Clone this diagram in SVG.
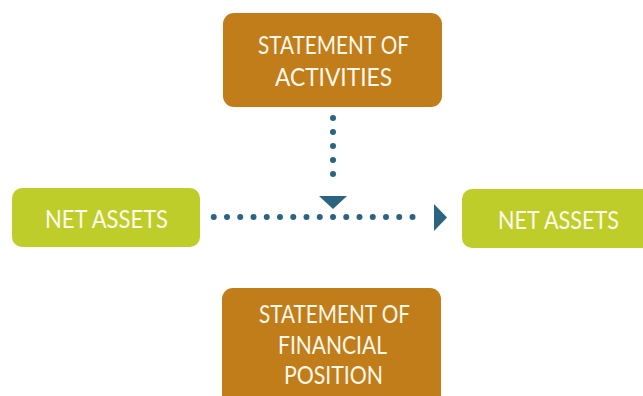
<svg xmlns="http://www.w3.org/2000/svg" width="643" height="396" viewBox="0 0 643 396">
<style>
.stmt{fill:#C17D1A}
.net{fill:#BFCD2B}
.t{fill:#FFF9EC;font-family:Lato,"Liberation Sans",sans-serif;font-size:25px;text-anchor:middle}
.dots{stroke:#2B6381;stroke-width:6;stroke-linecap:round;fill:none}
.head{fill:#2B6381}
</style>
<rect width="643" height="396" fill="#FFFFFF"/>
<g id="connectors">
<line class="dots" x1="333" y1="118" x2="333" y2="188" stroke-dasharray="0 14"/>
<polygon class="head" points="319,196 347,196 333,209"/>
<line class="dots" x1="213.75" y1="217" x2="425.75" y2="217" stroke-dasharray="0 13.25"/>
<polygon class="head" points="434,204 447,217.5 434,231"/>
</g>
<g id="activities">
<rect class="stmt" x="223" y="13" width="219" height="94" rx="11"/>
<text class="t" x="333.5" y="54" textLength="151" lengthAdjust="spacingAndGlyphs">STATEMENT OF</text>
<text class="t" x="333.5" y="86" textLength="117" lengthAdjust="spacingAndGlyphs">ACTIVITIES</text>
</g>
<g id="net-assets-left">
<rect class="net" x="12" y="188" width="188" height="59" rx="10"/>
<text class="t" x="106.5" y="228" textLength="123" lengthAdjust="spacingAndGlyphs">NET ASSETS</text>
</g>
<g id="net-assets-right">
<path class="net" d="M472,189 H643 V248 H472 A10,10 0 0 1 462,238 V199 A10,10 0 0 1 472,189 Z"/>
<text class="t" x="558.5" y="229" textLength="121" lengthAdjust="spacingAndGlyphs">NET ASSETS</text>
</g>
<g id="financial-position">
<path class="stmt" d="M233,288 H430 A11,11 0 0 1 441,299 V396 H222 V299 A11,11 0 0 1 233,288 Z"/>
<text class="t" x="334.5" y="323" textLength="151" lengthAdjust="spacingAndGlyphs">STATEMENT OF</text>
<text class="t" x="332.5" y="354" textLength="109" lengthAdjust="spacingAndGlyphs">FINANCIAL</text>
<text class="t" x="333.5" y="384" textLength="99" lengthAdjust="spacingAndGlyphs">POSITION</text>
</g>
</svg>
